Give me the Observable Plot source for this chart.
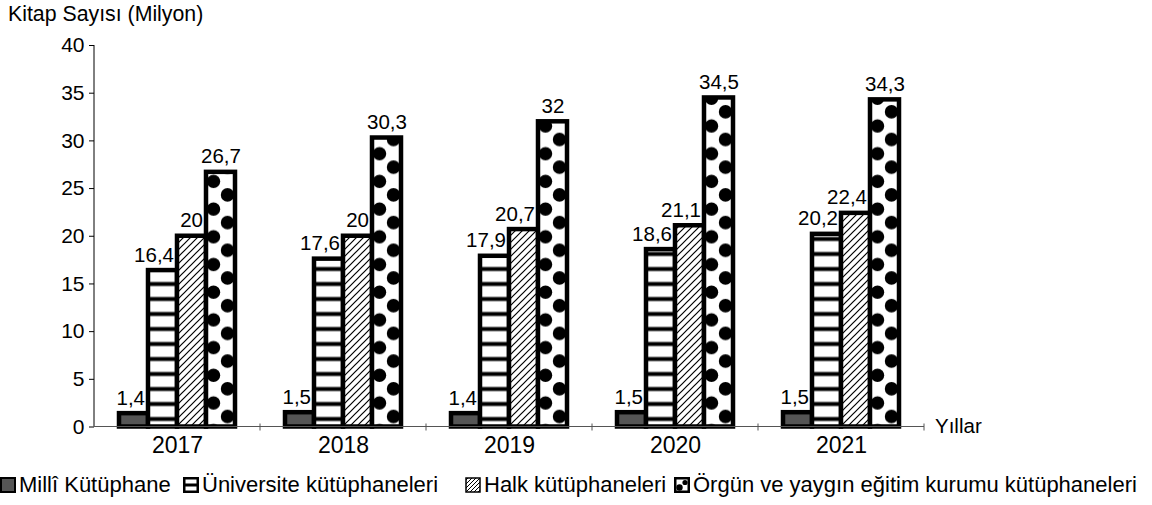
<!DOCTYPE html>
<html><head><meta charset="utf-8">
<script src="https://cdn.jsdelivr.net/npm/d3@7"></script>
<script src="https://cdn.jsdelivr.net/npm/@observablehq/plot@0.6"></script>
<style>
body{margin:0;background:#fff;font-family:"Liberation Sans",Arial,sans-serif;color:#000;}
#title{height:28px;line-height:28px;font-size:21.3px;padding-left:8px;white-space:nowrap;}
#chart svg{display:block;}
#legend{position:relative;height:50px;font-size:22px;white-space:nowrap;}
.item{position:absolute;top:0;height:50px;display:flex;align-items:center;}
.item svg{margin-right:3px;display:block;}
</style></head><body>
<div id="title">Kitap Sayısı (Milyon)</div>
<div id="chart"></div>
<div id="legend"></div>
<script>
const years = ["2017", "2018", "2019", "2020", "2021"];
const seriesNames = ["Millî Kütüphane", "Üniversite kütüphaneleri", "Halk kütüphaneleri", "Örgün ve yaygın eğitim kurumu kütüphaneleri"];
const milli = [1.4, 1.5, 1.4, 1.5, 1.5];
const universite = [16.4, 17.6, 17.9, 18.6, 20.2];
const halk = [20, 20, 20.7, 21.1, 22.4];
const orgun = [26.7, 30.3, 32, 34.5, 34.3];
const yTicks = [0, 5, 10, 15, 20, 25, 30, 35, 40];
const xTitle = "Yıllar";

const seriesValues = [milli, universite, halk, orgun];
const fills = ["#555555", "url(#stripes)", "url(#hatch)", "url(#dots)"];

const rows = [];
years.forEach((yr, i) => seriesValues.forEach((vals, s) => rows.push({year: yr, series: seriesNames[s], value: vals[i]})));
const fmt = v => String(v).replace(".", ",");

const textMarks = seriesNames.map((name, s) => Plot.text(rows, {
  filter: d => d.series === name,
  x: "series", y: "value", text: d => fmt(d.value),
  lineAnchor: "bottom", dy: -9,
  textAnchor: s === 3 ? "middle" : "end", dx: s === 3 ? 0 : 11,
  fontSize: 20.5, fill: "black"
}));

const chart = Plot.plot({
  width: 1152, height: 432,
  marginTop: 17, marginBottom: 33.5, marginLeft: 93, marginRight: 228,
  style: {fontFamily: "Liberation Sans, Arial, sans-serif", fontSize: "21px", color: "black", background: "white"},
  facet: {data: rows, x: "year"},
  fx: {domain: years, padding: 0, axis: "bottom", label: null, tickSize: 0, tickPadding: 10},
  x: {domain: seriesNames, paddingInner: 0, paddingOuter: 0.797, axis: null},
  y: {domain: [0, 40], ticks: yTicks, tickSize: 5, tickPadding: 5, label: null},
  color: {domain: seriesNames, range: fills},
  marks: [
    Plot.barY(rows, {x: "series", y: "value", fill: "series", stroke: "black", strokeWidth: 4.5}),
    ...textMarks
  ]
});
document.getElementById("chart").appendChild(chart);

const svg = d3.select(chart);
const fxS = chart.scale("fx"), yS = chart.scale("y");
const y0 = yS.apply(0), yTop = yS.apply(40);
const xL = fxS.apply(years[0]), xR = fxS.apply(years[years.length - 1]) + fxS.bandwidth;

const defs = svg.insert("defs", ":first-child");
// horizontal stripes
const ps = defs.append("pattern").attr("id", "stripes").attr("patternUnits", "userSpaceOnUse")
  .attr("x", 0).attr("y", y0).attr("width", 10).attr("height", 15);
ps.append("rect").attr("width", 10).attr("height", 15).attr("fill", "white");
ps.append("rect").attr("y", 5.5).attr("width", 10).attr("height", 4).attr("fill", "black");
// diagonal hatch
const ph = defs.append("pattern").attr("id", "hatch").attr("patternUnits", "userSpaceOnUse")
  .attr("width", 7).attr("height", 7);
ph.append("rect").attr("width", 7).attr("height", 7).attr("fill", "white");
ph.append("path").attr("d", "M-1,1L1,-1M0,7L7,0M6,8L8,6").attr("stroke", "black").attr("stroke-width", 1.2);

// dots: one pattern per bar, aligned to the bar
const H = 27.7;
let k = 0;
svg.selectAll("rect").filter(function() { return this.getAttribute("fill") === "url(#dots)"; })
  .each(function() {
    const r = d3.select(this);
    const x = +r.attr("x"), w = +r.attr("width"), yb = +r.attr("y") + +r.attr("height");
    const id = "dots" + (k++);
    const p = defs.append("pattern").attr("id", id).attr("patternUnits", "userSpaceOnUse")
      .attr("x", x).attr("y", yb).attr("width", w).attr("height", H);
    p.append("rect").attr("width", w).attr("height", H).attr("fill", "white");
    [[w - 7.5, H - 10], [7.5, H - 23.5], [7.5, 2 * H - 23.5]].forEach(([cx, cy]) =>
      p.append("circle").attr("cx", cx).attr("cy", cy).attr("r", 6.7).attr("fill", "black"));
    r.attr("fill", `url(#${id})`);
  });

svg.selectAll('g[aria-label^="fx-axis"] text').attr("font-size", 23);

const g = svg.append("g").attr("stroke", "black").attr("stroke-width", 1);
g.append("line").attr("x1", xL).attr("x2", xL).attr("y1", yTop).attr("y2", y0);
g.append("line").attr("x1", xL).attr("x2", xR).attr("y1", y0).attr("y2", y0).attr("stroke", "#555");
years.forEach(yr => {
  const xb = fxS.apply(yr) + fxS.bandwidth;
  g.append("line").attr("x1", xb).attr("x2", xb).attr("y1", y0 - 3).attr("y2", y0 + 4).attr("stroke", "#555");
});
svg.append("text").attr("x", xR + 11).attr("y", y0).attr("dy", "0.32em").attr("font-size", 20.5)
  .attr("text-anchor", "start").attr("fill", "black").text(xTitle);

// legend
const swatches = [
  '<rect x="1" y="1" width="14" height="14" fill="#555" stroke="black" stroke-width="2"/>',
  '<rect x="1.25" y="1.25" width="13.5" height="13.5" fill="white" stroke="black" stroke-width="2.5"/><rect x="1" y="6.5" width="14" height="3" fill="black"/>',
  '<defs><pattern id="lg-hatch" patternUnits="userSpaceOnUse" width="4" height="4"><rect width="4" height="4" fill="white"/><path d="M-1,1L1,-1M0,4L4,0M3,5L5,3" stroke="black" stroke-width="1"/></pattern></defs><rect x="1" y="1" width="14" height="14" fill="url(#lg-hatch)" stroke="black" stroke-width="1.5"/>',
  '<rect x="1.25" y="1.25" width="13.5" height="13.5" fill="white" stroke="black" stroke-width="2.5"/><circle cx="11" cy="5.5" r="2.6" fill="black"/><circle cx="5.5" cy="10.5" r="3.2" fill="black"/>'
];
const legendX = [0, 183, 465, 674];
const legend = d3.select("#legend");
seriesNames.forEach((name, i) => {
  const it = legend.append("div").attr("class", "item").style("left", legendX[i] + "px");
  it.append("svg").attr("width", 16).attr("height", 16).html(swatches[i]);
  it.append("span").text(name);
});
</script>
</body></html>
